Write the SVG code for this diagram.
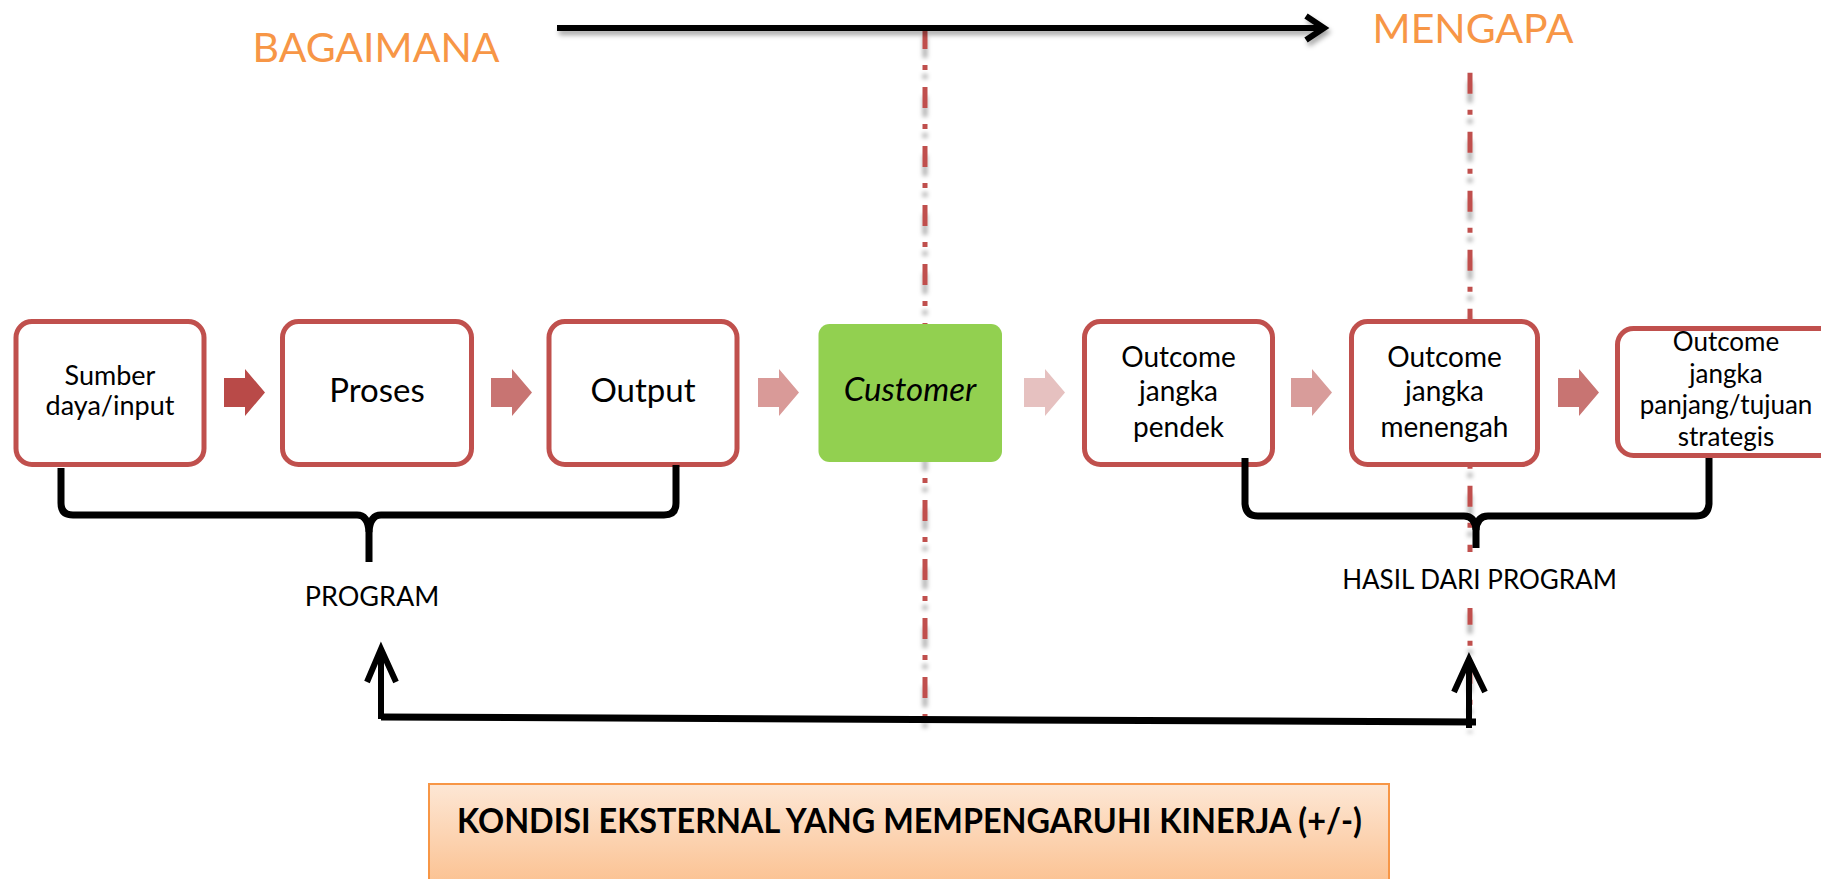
<svg xmlns="http://www.w3.org/2000/svg" width="1821" height="879" viewBox="0 0 1821 879">
<style>
.t{font-family:Lato,"Open Sans","Liberation Sans",sans-serif;fill:#000;text-anchor:middle}
.hd{font-family:Lato,"Open Sans","Liberation Sans",sans-serif;fill:#F79646;text-anchor:middle;font-size:41px}
.box{fill:#fff;stroke:#C0504D;stroke-width:5}
.div{stroke:#C0504D;stroke-width:5;stroke-dasharray:21 16 5 17;fill:none}
.blk{stroke:#000;stroke-width:7;fill:none;stroke-linecap:butt;stroke-linejoin:round}
</style>
<defs>
<polygon id="blk" points="0,-14.5 21,-14.5 21,-23.5 41,0 21,23.5 21,14.5 0,14.5"/>
<filter id="sh" filterUnits="userSpaceOnUse" x="0" y="0" width="1821" height="879">
<feDropShadow dx="0" dy="9" stdDeviation="2" flood-color="#000" flood-opacity="0.3"/>
</filter>
<filter id="sh2" filterUnits="userSpaceOnUse" x="0" y="0" width="1821" height="879">
<feDropShadow dx="2" dy="4" stdDeviation="2.5" flood-color="#000" flood-opacity="0.35"/>
</filter>
<linearGradient id="og" x1="0" y1="0" x2="0" y2="1">
<stop offset="0" stop-color="#FDE7D5"/>
<stop offset="1" stop-color="#FBBE8B"/>
</linearGradient>
</defs>
<rect width="1821" height="879" fill="#fff"/>

<g id="dividers" filter="url(#sh)">
<line class="div" x1="925" y1="28" x2="925" y2="724"/>
<line class="div" x1="1470" y1="72.7" x2="1470" y2="724"/>
</g>

<g id="label-bagaimana"><text class="hd" x="376" y="62">BAGAIMANA</text></g>
<g id="label-mengapa"><text class="hd" x="1473" y="43">MENGAPA</text></g>

<g id="node-sumber">
<rect class="box" x="16" y="321.5" width="188" height="143" rx="16"/>
<text class="t" x="110" y="385" font-size="27">Sumber</text>
<text class="t" x="110" y="415" font-size="27">daya/input</text>
</g>
<g id="node-proses">
<rect class="box" x="282.5" y="321.5" width="189" height="143" rx="16"/>
<text class="t" x="377" y="402" font-size="33">Proses</text>
</g>
<g id="node-output">
<rect class="box" x="549" y="321.5" width="188" height="143" rx="16"/>
<text class="t" x="643" y="402" font-size="33">Output</text>
</g>
<g id="node-customer">
<rect x="818.5" y="324" width="183.5" height="138" rx="11" fill="#92D050"/>
<text class="t" x="910" y="401" font-size="33" font-style="italic">Customer</text>
</g>
<g id="node-outcome-pendek">
<rect class="box" x="1084.5" y="321.5" width="188" height="143" rx="16"/>
<text class="t" x="1178.5" y="367" font-size="28">Outcome</text>
<text class="t" x="1178.5" y="401" font-size="28">jangka</text>
<text class="t" x="1178.5" y="437" font-size="28">pendek</text>
</g>
<g id="node-outcome-menengah">
<rect class="box" x="1351.5" y="321.5" width="186" height="143" rx="16"/>
<text class="t" x="1444.5" y="367" font-size="28">Outcome</text>
<text class="t" x="1444.5" y="401" font-size="28">jangka</text>
<text class="t" x="1444.5" y="437" font-size="28">menengah</text>
</g>
<g id="node-outcome-panjang">
<rect class="box" x="1617.5" y="328.5" width="240" height="127" rx="16"/>
<text class="t" x="1726" y="351" font-size="26">Outcome</text>
<text class="t" x="1726" y="382.5" font-size="26">jangka</text>
<text class="t" x="1726" y="414" font-size="26">panjang/tujuan</text>
<text class="t" x="1726" y="445.5" font-size="26">strategis</text>
</g>

<g id="connectors">
<use href="#blk" x="224" y="392.5" fill="#B94A48"/>
<use href="#blk" x="491" y="392.5" fill="#C87472"/>
<use href="#blk" x="758" y="392.5" fill="#D99A98"/>
<use href="#blk" x="1024" y="392.5" fill="#E6C1C0"/>
<use href="#blk" x="1291" y="392.5" fill="#D89C9A"/>
<use href="#blk" x="1558" y="392.5" fill="#C87472"/>
<g filter="url(#sh2)">
<line x1="557" y1="28" x2="1322" y2="28" stroke="#000" stroke-width="6"/>
<path d="M1306,16 L1324,28 L1306,40" fill="none" stroke="#000" stroke-width="6" stroke-linejoin="miter"/>
</g>
<path class="blk" d="M61,468 V503 Q61,515 73,515 H357 Q368,515 369,532 V562"/>
<path class="blk" d="M676,465 V503 Q676,515 664,515 H381 Q370,515 369,532"/>
<path class="blk" d="M1245,458 V504 Q1246,516 1258,516 H1464 Q1475,516 1476,530 V548"/>
<path class="blk" d="M1709,458 V504 Q1708,516 1696,516 H1488 Q1477,516 1476,530"/>
<path d="M381,717 L1476,722" stroke="#000" stroke-width="7" fill="none"/>
<path d="M381,719 V650" stroke="#000" stroke-width="6" fill="none"/>
<path d="M367,682 L381,649 L396,682" stroke="#000" stroke-width="6" fill="none" stroke-linejoin="miter"/>
<path d="M1469,728 V660" stroke="#000" stroke-width="6" fill="none"/>
<path d="M1454,692 L1469,659 L1485,692" stroke="#000" stroke-width="6" fill="none" stroke-linejoin="miter"/>
</g>

<g id="label-program"><text class="t" x="372" y="606" font-size="27">PROGRAM</text></g>
<g id="label-hasil">
<rect x="1340" y="552" width="280" height="56" fill="#fff"/>
<text class="t" x="1479.5" y="589" font-size="26">HASIL DARI PROGRAM</text>
</g>

<g id="node-kondisi">
<rect x="429" y="784" width="960" height="110" fill="url(#og)" stroke="#F79646" stroke-width="2"/>
<text class="t" x="909.5" y="833" font-size="34" font-weight="bold" textLength="905" lengthAdjust="spacingAndGlyphs">KONDISI EKSTERNAL YANG MEMPENGARUHI KINERJA (+/-)</text>
</g>
</svg>
